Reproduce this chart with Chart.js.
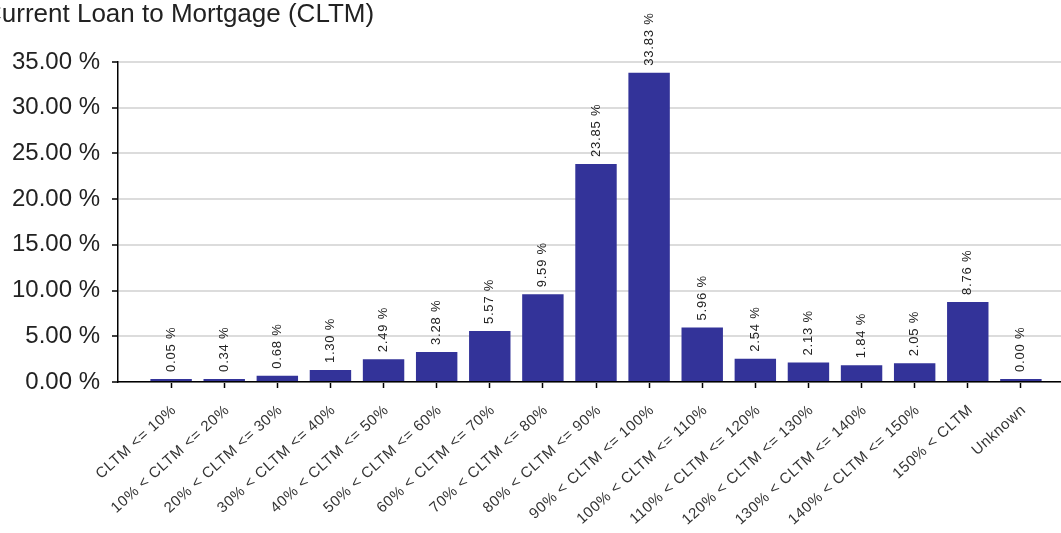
<!DOCTYPE html>
<html>
<head>
<meta charset="utf-8">
<title>Current Loan to Mortgage (CLTM)</title>
<script src="https://cdn.jsdelivr.net/npm/chart.js@4/dist/chart.umd.min.js"></script>
<style>
  html, body { margin: 0; padding: 0; background: #fff; overflow: hidden; }
  #wrap { position: absolute; left: -30px; top: 0; width: 1110px; height: 533px; }
</style>
</head>
<body>
<div id="wrap"><canvas id="graficoCltm" width="1110" height="533"></canvas></div>
<script>
// Faixas de CLTM e percentagem de contratos em cada uma
var faixas = [
    'CLTM <= 10%', '10% < CLTM <= 20%', '20% < CLTM <= 30%', '30% < CLTM <= 40%',
    '40% < CLTM <= 50%', '50% < CLTM <= 60%', '60% < CLTM <= 70%', '70% < CLTM <= 80%',
    '80% < CLTM <= 90%', '90% < CLTM <= 100%', '100% < CLTM <= 110%', '110% < CLTM <= 120%',
    '120% < CLTM <= 130%', '130% < CLTM <= 140%', '140% < CLTM <= 150%', '150% < CLTM', 'Unknown'
];
var percentagens = [0.05, 0.34, 0.68, 1.30, 2.49, 3.28, 5.57, 9.59, 23.85, 33.83, 5.96, 2.54, 2.13, 1.84, 2.05, 8.76, 0.00];
var ticksY = [0, 5, 10, 15, 20, 25, 30, 35];

var fonte = '"Liberation Sans", Arial, sans-serif';

// Valores escritos na vertical por cima de cada barra
var etiquetasValor = {
    id: 'etiquetasValor',
    afterDatasetsDraw: function(chart) {
        var ctx = chart.ctx;
        var meta = chart.getDatasetMeta(0);
        ctx.save();
        ctx.font = '13px ' + fonte;
        ctx.letterSpacing = '0.8px';
        ctx.fillStyle = '#222';
        ctx.textAlign = 'left';
        ctx.textBaseline = 'middle';
        meta.data.forEach(function(barra, i) {
            ctx.save();
            ctx.translate(barra.x, barra.y - 7);
            ctx.rotate(-Math.PI / 2);
            ctx.fillText(percentagens[i].toFixed(2) + ' %', 0, 0);
            ctx.restore();
        });
        ctx.restore();
    }
};

// Nomes das faixas, inclinados por baixo do eixo X
var etiquetasFaixas = {
    id: 'etiquetasFaixas',
    afterDraw: function(chart) {
        var ctx = chart.ctx;
        var eixoX = chart.scales.x;
        ctx.save();
        ctx.font = '15px ' + fonte;
        ctx.letterSpacing = '0.6px';
        ctx.fillStyle = '#333';
        ctx.textAlign = 'right';
        ctx.textBaseline = 'middle';
        faixas.forEach(function(nome, i) {
            ctx.save();
            ctx.translate(eixoX.getPixelForValue(i) + 3, eixoX.top + 26);
            ctx.rotate(-42 * Math.PI / 180);
            ctx.fillText(nome, 0, 0);
            ctx.restore();
        });
        ctx.restore();
    }
};

new Chart(document.getElementById('graficoCltm').getContext('2d'), {
    type: 'bar',
    data: {
        datasets: [{
            label: 'CLTM',
            data: percentagens.map(function(v, i) { return { x: i, y: v }; }),
            backgroundColor: '#333399',
            borderWidth: 0,
            minBarLength: 3,
            categoryPercentage: 1,
            barPercentage: 0.78
        }]
    },
    options: {
        responsive: false,
        animation: false,
        layout: {
            padding: { left: 13, right: 6, top: 0, bottom: 145 }
        },
        plugins: {
            legend: { display: false },
            tooltip: { enabled: false },
            title: {
                display: true,
                text: 'Current Loan to Mortgage (CLTM)',
                align: 'start',
                color: '#222',
                font: { family: fonte, size: 26, weight: 'normal', lineHeight: 1 },
                padding: { top: 2, bottom: 34 }
            }
        },
        scales: {
            x: {
                type: 'linear',
                min: -1,
                max: 17,
                offset: false,
                afterBuildTicks: function(escala) {
                    escala.ticks = faixas.map(function(f, i) { return { value: i }; });
                },
                ticks: { display: false },
                grid: {
                    offset: false,
                    drawOnChartArea: false,
                    drawTicks: true,
                    tickLength: 6,
                    tickColor: '#000',
                    tickWidth: 1.5
                },
                border: { color: '#000', width: 1.5 }
            },
            y: {
                min: 0,
                max: 35,
                afterBuildTicks: function(escala) {
                    escala.ticks = ticksY.map(function(v) { return { value: v }; });
                },
                afterFit: function(escala) { escala.width = 135; },
                ticks: {
                    color: '#222',
                    padding: 12,
                    font: { family: fonte, size: 24 },
                    callback: function(v) { return v.toFixed(2) + ' %'; }
                },
                grid: {
                    color: '#dcdcdc',
                    lineWidth: 2,
                    tickLength: 6,
                    tickColor: '#000',
                    tickWidth: 1.5
                },
                border: { color: '#000', width: 1.5 }
            }
        }
    },
    plugins: [etiquetasValor, etiquetasFaixas]
});
</script>
</body>
</html>
